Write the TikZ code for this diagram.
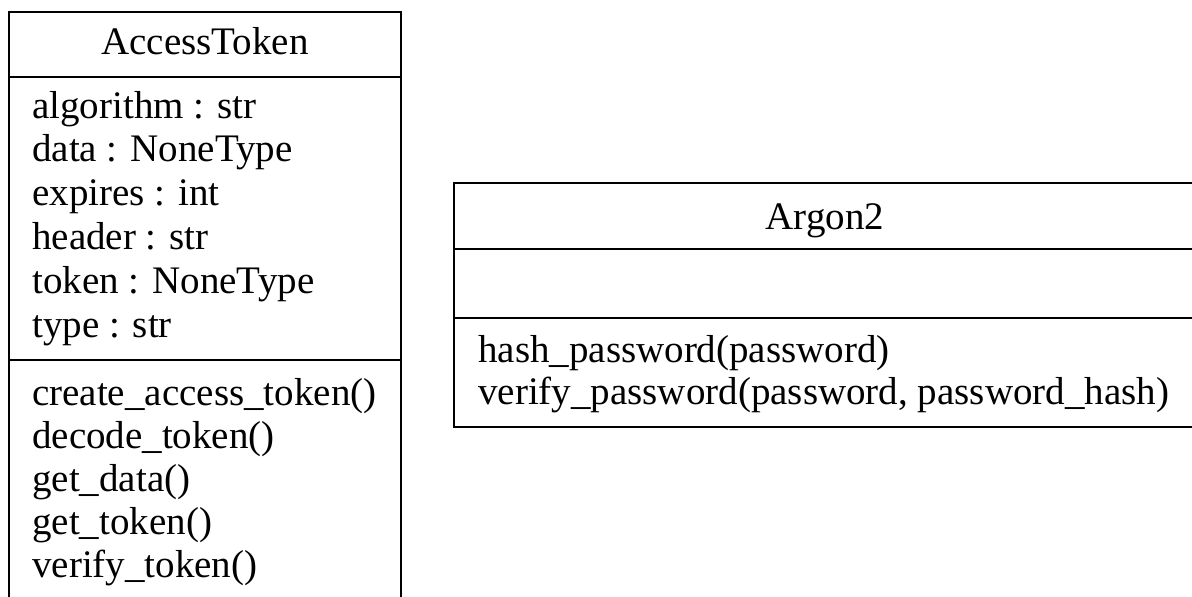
\documentclass[tikz,border=0pt]{standalone}
\usepackage{fontspec}
\setmainfont{Liberation Serif}
\tikzset{
  umlline/.style={line width=1.8pt, draw=black},
  member/.style={anchor=base west, inner sep=0pt, font=\fontsize{39}{43}\selectfont},
  classtitle/.style={anchor=base, inner sep=0pt, font=\fontsize{39}{43}\selectfont},
}
\begin{document}
\begin{tikzpicture}[x=1pt,y=-1pt]
\useasboundingbox (0,0) rectangle (1192,597);
\clip (0,0) rectangle (1192,597);

% class AccessToken
\draw[umlline] (9,12) rectangle (401,601);
\draw[umlline] (9,77) -- (401,77);
\draw[umlline] (9,360) -- (401,360);
\node[classtitle] (at-name) at (205,54) {AccessToken};
\foreach \t [count=\i] in {algorithm : str, data : NoneType, expires : int,
    header : str, token : NoneType, type : str}
  \node[member] (at-attr-\i) at (32,{118+43.8*(\i-1)}) {\t};
\foreach \t [count=\i] in {create\_access\_token(), decode\_token(), get\_data(),
    get\_token(), verify\_token()}
  \node[member] (at-op-\i) at (32,{405+43*(\i-1)}) {\t};

% class Argon2
\draw[umlline] (454,183) rectangle (1196,427);
\draw[umlline] (454,249) -- (1196,249);
\draw[umlline] (454,318) -- (1196,318);
\node[classtitle] (ar-name) at (825,229) {Argon2};
\foreach \t [count=\i] in {hash\_password(password),
    {verify\_password(password, password\_hash)}}
  \node[member] (ar-op-\i) at (478,{362+42*(\i-1)}) {\t};
\end{tikzpicture}
\end{document}
